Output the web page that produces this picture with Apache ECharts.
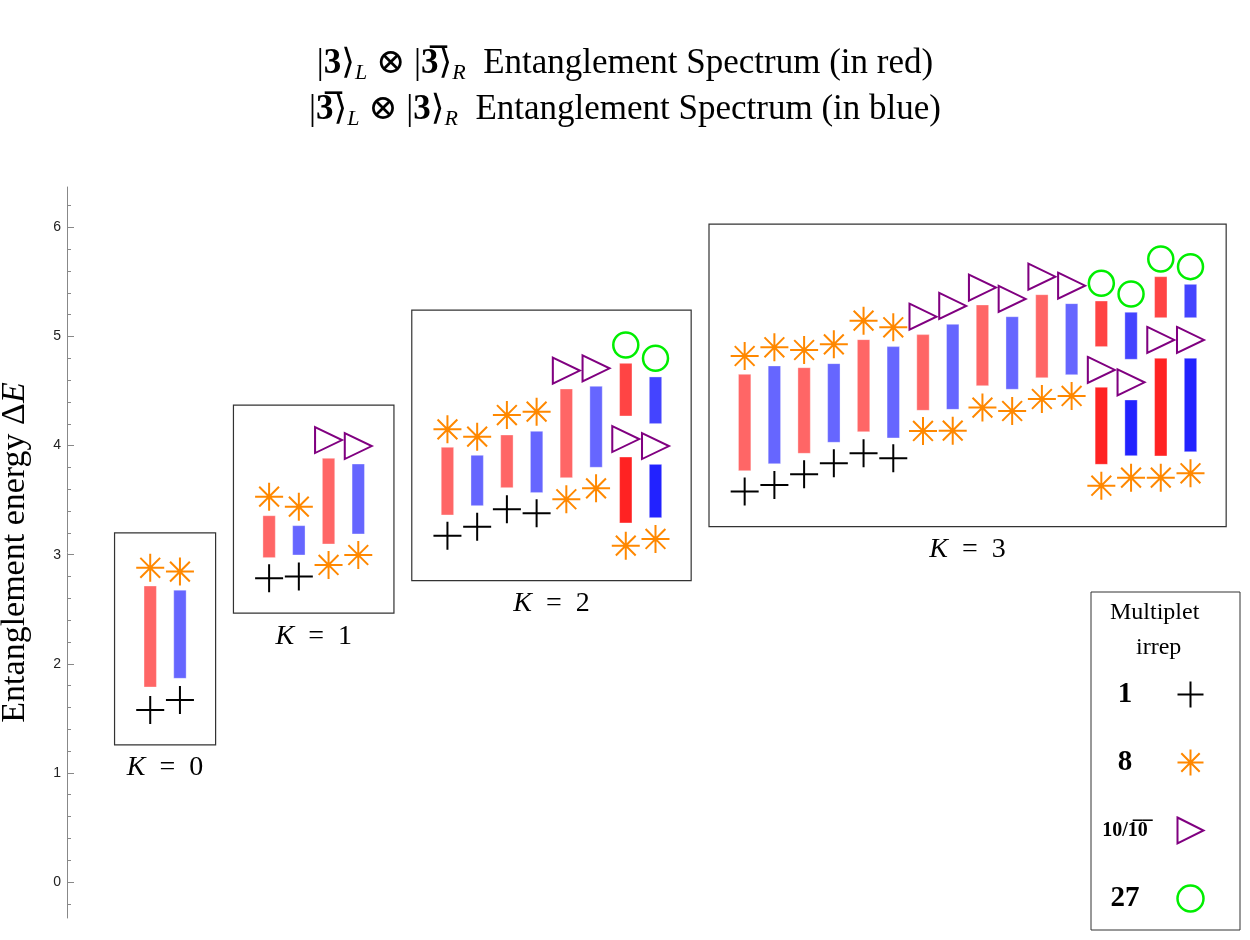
<!DOCTYPE html>
<html>
<head>
<meta charset="utf-8">
<script src="https://cdn.jsdelivr.net/npm/echarts@6/dist/echarts.min.js"></script>
<style>html,body{margin:0;background:#fff}#chart{width:1250px;height:940px}</style>
</head>
<body>
<div id="chart"></div>
<script>
let myChart = echarts.init(document.getElementById('chart'));

// columns: each K block uses consecutive x slots, red (|3>|3b>) then blue (|3b>|3>)
const groupCols = [[0, 1], [4, 7], [10, 17], [20, 35]];
const groupK = [0, 1, 2, 3];

// bars [x, low, high]
const redLight = [[0, 1.787, 2.713], [4, 2.973, 3.357], [6, 3.098, 3.883],
  [10, 3.364, 3.984], [12, 3.614, 4.097], [14, 3.706, 4.519],
  [20, 3.77, 4.653], [22, 3.929, 4.714], [24, 4.127, 4.971], [26, 4.323, 5.017], [28, 4.549, 5.289], [30, 4.622, 5.383]];
const blueLight = [[1, 1.867, 2.675], [5, 2.997, 3.266], [7, 3.19, 3.831],
  [11, 3.449, 3.911], [13, 3.569, 4.131], [15, 3.801, 4.543],
  [21, 3.834, 4.73], [23, 4.03, 4.751], [25, 4.07, 4.907], [27, 4.332, 5.111], [29, 4.516, 5.181], [31, 4.65, 5.301]];
const redMid = [[16, 4.271, 4.754], [32, 4.907, 5.325], [34, 5.172, 5.548]];
const blueMid = [[17, 4.201, 4.629], [33, 4.791, 5.222], [35, 5.172, 5.478]];
const redDark = [[16, 3.291, 3.895], [32, 3.828, 4.534], [34, 3.905, 4.8]];
const blueDark = [[17, 3.339, 3.828], [33, 3.907, 4.418], [35, 3.944, 4.8]];

// multiplet markers [x, energy]
const singlets = [[0, 1.577], [1, 1.668], [4, 2.784], [5, 2.80],
  [10, 3.174], [11, 3.257], [12, 3.416], [13, 3.379],
  [20, 3.578], [21, 3.639], [22, 3.737], [23, 3.838], [24, 3.929], [25, 3.883]];
const octets = [[0, 2.88], [1, 2.845], [4, 3.532], [5, 3.44], [6, 2.906], [7, 2.997],
  [10, 4.149], [11, 4.082], [12, 4.28], [13, 4.311], [14, 3.508], [15, 3.608], [16, 3.083], [17, 3.144],
  [20, 4.821], [21, 4.901], [22, 4.876], [23, 4.928], [24, 5.145], [25, 5.084], [26, 4.134], [27, 4.137],
  [28, 4.348], [29, 4.317], [30, 4.427], [31, 4.455], [32, 3.632], [33, 3.706], [34, 3.706], [35, 3.746]];
const decuplets = [[6, 4.051], [7, 3.996], [14, 4.687], [15, 4.708], [16, 4.06], [17, 3.996],
  [26, 5.181], [27, 5.28], [28, 5.448], [29, 5.344], [30, 5.548], [31, 5.465], [32, 4.693], [33, 4.58], [34, 4.968], [35, 4.968]];
const plets27 = [[16, 4.922], [17, 4.80], [32, 5.487], [33, 5.389], [34, 5.71], [35, 5.64]];

const majorTicks = [0, 1, 2, 3, 4, 5, 6];
const minorTicks = [-0.2, 0.2, 0.4, 0.6, 0.8, 1.2, 1.4, 1.6, 1.8, 2.2, 2.4, 2.6, 2.8, 3.2, 3.4, 3.6, 3.8,
  4.2, 4.4, 4.6, 4.8, 5.2, 5.4, 5.6, 5.8, 6.2];
const irrepNames = ['1', '8', '10', '27'];
const irrepLabels = ['{b|1}', '{b|8}', '{s|10/1\u03050\u0305}', '{b|27}'];

const serif = "'Liberation Serif', 'DejaVu Serif', serif";

// frame round each K block, padded around its markers
const frames = groupCols.map(function (cols, k) {
  let lo = Infinity, hi = -Infinity;
  [singlets, octets, decuplets, plets27].forEach(function (set) {
    set.forEach(function (p) {
      if (p[0] >= cols[0] && p[0] <= cols[1]) {
        lo = Math.min(lo, p[1]);
        hi = Math.max(hi, p[1]);
      }
    });
  });
  return [cols[0] - 1.2, cols[1] + 1.2, lo - 0.32, hi + 0.32, groupK[k]];
});

function barSeries(name, data, color) {
  return {
    name: name,
    type: 'custom',
    data: data,
    z: 2,
    clip: false,
    renderItem: function (params, api) {
      const p0 = api.coord([api.value(0), api.value(1)]);
      const p1 = api.coord([api.value(0), api.value(2)]);
      return {
        type: 'rect',
        shape: {x: p0[0] - 6.2, y: p1[1], width: 12.4, height: p0[1] - p1[1]},
        style: {fill: color, stroke: 'rgba(255,255,255,0.35)', lineWidth: 1}
      };
    }
  };
}

const plusPath = 'path://M0,-1L0,1M-1,0L1,0';
const starPath = 'path://M0,-1L0,1M-1,0L1,0M-0.707,-0.707L0.707,0.707M-0.707,0.707L0.707,-0.707';
const triPath = 'path://M0,0L1,0.5L0,1Z';

option = {
  animation: false,
  backgroundColor: '#fff',
  title: {
    left: 'center',
    top: 36,
    text: '{t||}{b|3}{t|\u27E9}{s|L}{t| \u2297 |}{b|3\u0305}{t|\u27E9}{s|R}{t|  Entanglement Spectrum (in red)}\n' +
      '{t||}{b|3\u0305}{t|\u27E9}{s|L}{t| \u2297 |}{b|3}{t|\u27E9}{s|R}{t|  Entanglement Spectrum (in blue)}',
    textStyle: {
      fontFamily: serif,
      fontSize: 35,
      fontWeight: 'normal',
      lineHeight: 46,
      color: '#000',
      rich: {
        t: {fontFamily: serif, fontSize: 35, color: '#000', lineHeight: 46},
        b: {fontFamily: serif, fontSize: 35, fontWeight: 'bold', color: '#000', lineHeight: 46},
        s: {fontFamily: serif, fontSize: 22, fontStyle: 'italic', color: '#000', lineHeight: 46, padding: [18, 0, 0, 0]}
      }
    }
  },
  grid: {left: 67, top: 187, width: 1177, height: 731, outerBoundsMode: 'none'},
  xAxis: {type: 'value', min: -2.8, max: 36.8, show: false},
  yAxis: [{
    type: 'value',
    min: -0.33,
    max: 6.37,
    name: 'Entanglement energy \u0394{i|E}',
    nameLocation: 'middle',
    nameGap: 35,
    nameRotate: 90,
    nameTextStyle: {
      fontFamily: serif, fontSize: 34, color: '#000',
      rich: {i: {fontFamily: serif, fontSize: 34, fontStyle: 'italic', color: '#000'}}
    },
    axisLine: {show: true, onZero: false, lineStyle: {color: '#888', width: 1}},
    axisTick: {show: true, inside: true, length: 7, customValues: majorTicks, lineStyle: {color: '#888'}},
    axisLabel: {customValues: majorTicks, fontFamily: "'Liberation Sans', Arial, sans-serif", fontSize: 14, color: '#222', margin: 6},
    splitLine: {show: false}
  }, {
    type: 'value',
    position: 'left',
    min: -0.33,
    max: 6.37,
    axisLine: {show: false, onZero: false},
    axisTick: {show: true, inside: true, length: 4, customValues: minorTicks, lineStyle: {color: '#888'}},
    axisLabel: {show: false},
    splitLine: {show: false}
  }],
  legend: {
    orient: 'vertical',
    left: 1091,
    top: 592,
    align: 'right',
    padding: [87, 34, 16, 4],
    itemGap: 37,
    itemWidth: 27,
    itemHeight: 26,
    borderColor: '#333',
    borderWidth: 1,
    selectedMode: false,
    data: irrepNames,
    formatter: function (name) {
      return irrepLabels[irrepNames.indexOf(name)];
    },
    itemStyle: {borderWidth: 'inherit', opacity: 1},
    textStyle: {
      rich: {
        b: {fontFamily: serif, fontSize: 29, fontWeight: 'bold', color: '#000', width: 60, align: 'center', lineHeight: 30, padding: [0, 17, 0, 0]},
        s: {fontFamily: serif, fontSize: 20, fontWeight: 'bold', color: '#000', width: 60, align: 'center', lineHeight: 30, padding: [0, 17, 0, 0]}
      }
    }
  },
  graphic: [{
    type: 'text',
    left: 1110,
    top: 601,
    style: {text: 'Multiplet', fontFamily: serif, fontSize: 24, fill: '#000'}
  }, {
    type: 'text',
    left: 1136,
    top: 636,
    style: {text: 'irrep', fontFamily: serif, fontSize: 24, fill: '#000'}
  }],
  series: [
    {
      name: 'frames',
      type: 'custom',
      data: frames,
      z: 1,
      clip: false,
      renderItem: function (params, api) {
        const tl = api.coord([api.value(0), api.value(3)]);
        const br = api.coord([api.value(1), api.value(2)]);
        return {
          type: 'group',
          children: [{
            type: 'rect',
            shape: {x: tl[0], y: tl[1], width: br[0] - tl[0], height: br[1] - tl[1]},
            style: {fill: 'none', stroke: '#333', lineWidth: 1.2}
          }, {
            type: 'text',
            x: (tl[0] + br[0]) / 2,
            y: br[1] + 23,
            style: {
              text: '{k|K}\u2002=\u2002' + api.value(4),
              fontFamily: serif, fontSize: 28, fill: '#000',
              align: 'center', verticalAlign: 'middle',
              rich: {k: {fontFamily: serif, fontSize: 28, fontStyle: 'italic', fill: '#000'}}
            }
          }]
        };
      }
    },
    barSeries('redLight', redLight, '#ff6666'),
    barSeries('blueLight', blueLight, '#6666ff'),
    barSeries('redMid', redMid, '#ff4444'),
    barSeries('blueMid', blueMid, '#4444ff'),
    barSeries('redDark', redDark, '#ff2222'),
    barSeries('blueDark', blueDark, '#2222ff'),
    {
      name: '1', type: 'scatter', data: singlets, z: 3,
      symbol: plusPath, symbolSize: 28,
      itemStyle: {color: 'none', borderColor: '#000', borderWidth: 2, opacity: 1}
    },
    {
      name: '8', type: 'scatter', data: octets, z: 3,
      symbol: starPath, symbolSize: 28,
      itemStyle: {color: 'none', borderColor: '#ff8800', borderWidth: 2, opacity: 1}
    },
    {
      name: '10', type: 'scatter', data: decuplets, z: 3,
      symbol: triPath, symbolSize: [27, 26],
      itemStyle: {color: 'none', borderColor: '#800080', borderWidth: 2, opacity: 1}
    },
    {
      name: '27', type: 'scatter', data: plets27, z: 3,
      symbol: 'circle', symbolSize: 25,
      itemStyle: {color: 'none', borderColor: '#00ee00', borderWidth: 2.5, opacity: 1}
    }
  ]
};

myChart.setOption(option);
</script>
</body>
</html>
